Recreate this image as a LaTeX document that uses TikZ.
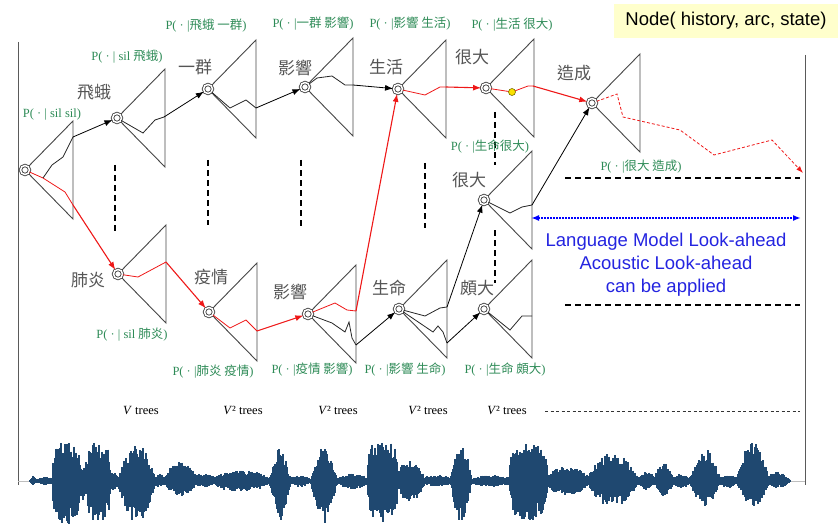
\documentclass[tikz,border=0pt]{standalone}
\usepackage{fontspec}
\setmainfont{Liberation Serif}
\setsansfont{Liberation Sans}
\newfontfamily\cjk{Noto Sans CJK TC}
\usetikzlibrary{arrows.meta}

\definecolor{probgreen}{RGB}{46,139,87}
\definecolor{treegray}{RGB}{70,70,70}
\definecolor{wordgray}{RGB}{85,85,85}
\definecolor{pathred}{RGB}{238,24,24}
\definecolor{wavecol}{RGB}{31,72,112}
\definecolor{lookblue}{RGB}{36,36,224}

\tikzset{every picture/.style={line width=0.75pt},
  tree/.style={draw=treegray,line width=0.9pt},
  hist/.style={circle,draw=treegray,double=white,double distance=1.5pt,line width=0.9pt,minimum size=9pt,inner sep=0pt,fill=white},
  word/.style={text=wordgray,font=\cjk\fontsize{17}{17}\selectfont,inner sep=0pt},
  prob/.style={text=probgreen,font=\fontsize{12.5}{13}\selectfont,inner sep=0pt},
  trees/.style={font=\fontsize{12.5}{13}\selectfont},
  redline/.style={draw=pathred,line width=0.8pt},
  blkline/.style={draw=black!85,line width=0.8pt},
  redarr/.style={draw=pathred,line width=1.1pt,-{Latex[length=8pt,width=6pt]}},
  blkarr/.style={draw=black,line width=0.8pt,-{Latex[length=8pt,width=6pt]}},
  vdash/.style={draw=black,line width=1.6pt,dash pattern=on 6pt off 4pt},
  hdash/.style={draw=black,line width=1.4pt,dash pattern=on 6pt off 4pt},
  wave/.style={draw=wavecol,line width=1.15pt}
}

\begin{document}
\begin{tikzpicture}[x=1pt,y=1pt,yscale=-1,xscale=1]
\path[use as bounding box] (0,0) rectangle (838,524);

%Legend box
\fill[fill={rgb,255:red,255;green,255;blue,204}] (614,4) rectangle (838,38);
\node[font=\sffamily\fontsize{18.5}{18.5}\selectfont] (legend) at (726,21) {Node( history, arc, state)};

%Time borders
\draw[draw={rgb,255:red,90;green,90;blue,90},line width=1pt] (18,42) -- (18,485);
\draw[draw={rgb,255:red,90;green,90;blue,90},line width=1pt] (805,55) -- (805,485);

%Waveform
\draw[draw={rgb,255:red,190;green,190;blue,190},line width=1pt] (18,481) -- (805,481);
\pgfmathsetseed{7}
\foreach \xa/\xb/\ua/\da/\p in {30/36/5/3/1, 36/54/3/3/0.5, 53/81/41/43/0.2, 80/89/20/20/0.5,
  87/110/41/43/0.2, 108/119/8/8/0.5, 117/157/36/42/1, 155/165/6/6/0.5, 162/200/20/14/1,
  195/215/8/6/0.5, 213/270/10/10/0.5, 268/292/32/40/1.5, 290/310/5/5/0.5, 310/338/34/42/1.2,
  338/368/7/7/0.5, 368/397/41/40/0.15, 395/425/20/20/0.7, 422/452/5/5/0.5, 450/472/38/42/1,
  470/512/5/5/0.5, 510/547/39/40/0.2, 545/590/14/14/0.6, 585/640/28/26/1, 638/655/8/8/0.5,
  653/675/18/14/1, 673/690/6/6/0.5, 688/722/31/24/1.2, 720/738/6/6/0.5, 736/770/40/25/1,
  765/790/8/6/0.7}{
  \foreach \x in {\xa,...,\xb}{
    \pgfmathsetmacro\s{pow(max(sin(180*(\x-\xa)/(\xb-\xa)),0.02),\p)}
    \pgfmathsetmacro\u{1+\ua*\s*(0.5+0.5*rnd)}
    \pgfmathsetmacro\d{1+\da*\s*(0.5+0.5*rnd)}
    \draw[wave] (\x,481-\u) -- (\x,481+\d);
  }
}

%Trees
\foreach \n/\x/\y in {t0/25/170, t1/117/118, t2/208/89, t3/305/87, t4/398/89, t5/486/88, t6/592/103,
  b1/118/274, b2/209/312, b3/308/314, b4/399/309, b5/484/309, m5/484/200}{
  \draw[tree] (\x,\y) -- (\x+48,\y-49) -- (\x+48,\y+49) -- cycle;
  \node[hist] (\n) at (\x,\y) {};
}

%Vertical dashes
\draw[vdash] (115,165) -- (115,232);
\draw[vdash] (208,160) -- (208,225);
\draw[vdash] (301,160) -- (301,227);
\draw[vdash] (425,163) -- (425,228);
\draw[vdash] (495,112) -- (495,165);
\draw[vdash] (495,230) -- (495,283);

%Paths inside the trees
\coordinate (e0r) at (73,205);
\coordinate (e0k) at (73,137);
\coordinate (e1) at (164,117);
\coordinate (e2) at (256,108);
\coordinate (e3) at (353,85);
\coordinate (e4) at (446,87);
\coordinate (e5) at (533,86);
\coordinate (eb1) at (166,262);
\coordinate (eb2) at (257,331);
\coordinate (eb3r) at (356,311);
\coordinate (eb3k) at (356,345);
\coordinate (eb4a) at (447,307);
\coordinate (eb4b) at (447,343);
\coordinate (em5) at (532,205);
\coordinate (endr) at (803,173);

\draw[redline] (t0) -- (43,178) -- (65,192) -- (e0r);
\draw[blkline] (43,178) -- (52,165) -- (63,157) -- (e0k);
\draw[blkline] (t1) -- (143,133) -- (155,120) -- (e1);
\draw[blkline] (t2) -- (230,108) -- (246,100) -- (e2);
\draw[blkline] (t3) -- (317,78) -- (332,76) -- (345,85) -- (e3);
\draw[redline] (t4) -- (425,95) -- (440,87) -- (e4);
\draw[redline] (t5) -- (512,92) -- (528,86) -- (e5);
\draw[redline,dash pattern=on 3pt off 2pt,-{Latex[length=7pt,width=5pt]}] (t6) -- (617,94) -- (623,117) -- (680,130) -- (714,155) -- (772,140) -- (endr);
\draw[redline] (b1) -- (138,277) -- (eb1);
\draw[redline] (b2) -- (230,328) -- (246,320) -- (eb2);
\draw[redline] (b3) -- (335,303) -- (347,310) -- (eb3r);
\draw[blkline] (b3) -- (332,323) -- (345,332) -- (349,322) -- (352,338) -- (eb3k);
\draw[blkline] (b4) -- (425,316) -- (440,308) -- (eb4a);
\draw[blkline] (b4) -- (433,332) -- (438,326) -- (443,332) -- (eb4b);
\draw[blkline] (b5) -- (510,330) -- (522,316) -- (532,316);
\draw[blkline] (m5) -- (510,213) -- (522,207) -- (em5);

%Yellow dot
\node[circle,fill={rgb,255:red,250;green,225;blue,0},draw={rgb,255:red,120;green,110;blue,0},line width=0.6pt,minimum size=7pt,inner sep=0pt] (dot) at (512,92) {};

%Arrows between trees
\draw[blkarr] (e0k) -- (t1);
\draw[blkarr] (e1) -- (t2);
\draw[blkarr] (e2) -- (t3);
\draw[blkarr] (e3) -- (t4);
\draw[redarr] (e4) -- (t5);
\draw[redarr] (e5) -- (t6);
\draw[redarr] (e0r) -- (b1);
\draw[redarr] (eb1) -- (b2);
\draw[redarr] (eb2) -- (b3);
\draw[redarr] (eb3r) -- (t4);
\draw[blkarr] (eb3k) -- (b4);
\draw[blkarr] (eb4a) -- (m5);
\draw[blkarr] (eb4b) -- (b5);
\draw[blkarr] (em5) -- (t6);

% Text Node
\node[word] (w1) at (94,92) {飛蛾};
\node[word] (w2) at (195,67) {一群};
\node[word] (w3) at (295,68) {影響};
\node[word] (w4) at (386,67) {生活};
\node[word] (w5) at (472,57) {很大};
\node[word] (w6) at (574,73) {造成};
\node[word] (w7) at (469,180) {很大};
\node[word] (w8) at (88,280) {肺炎};
\node[word] (w9) at (211,277) {疫情};
\node[word] (w10) at (290,292) {影響};
\node[word] (w11) at (389,288) {生命};
\node[word] (w12) at (477,288) {頗大};

% Text Node
\node[prob] (p0) at (52,115) {P( · | sil sil)};
\node[prob] (p1) at (127,57) {P( · | sil {\cjk 飛蛾})};
\node[prob] (p2) at (206,26) {P( · |{\cjk 飛蛾 一群})};
\node[prob] (p3) at (313,24) {P( · |{\cjk 一群 影響})};
\node[prob] (p4) at (410,24) {P( · |{\cjk 影響 生活})};
\node[prob] (p5) at (512,25) {P( · |{\cjk 生活 很大})};
\node[prob] (p6) at (490,147) {P( · |{\cjk 生命很大})};
\node[prob] (p7) at (641,167) {P( · |{\cjk 很大 造成})};
\node[prob] (p8) at (132,335) {P( · | sil {\cjk 肺炎})};
\node[prob] (p9) at (213,372) {P( · |{\cjk 肺炎 疫情})};
\node[prob] (p10) at (312,370) {P( · |{\cjk 疫情 影響})};
\node[prob] (p11) at (405,370) {P( · |{\cjk 影響 生命})};
\node[prob] (p12) at (505,370) {P( · |{\cjk 生命 頗大})};

%Look-ahead region
\draw[hdash] (565,178) -- (800,178);
\draw[hdash] (565,305) -- (800,305);
\coordinate (la) at (531,218);
\coordinate (lb) at (801,218);
\draw[draw=blue,line width=1.6pt,dash pattern=on 1.6pt off 1.4pt,{Latex[length=8pt,width=6pt]}-{Latex[length=8pt,width=6pt]}] (la) -- (lb);
\node[text=lookblue,font=\sffamily\fontsize{18.5}{23}\selectfont,align=center] (look) at (666,265) {Language Model Look-ahead\\Acoustic Look-ahead\\can be applied};

% Text Node
\node[trees] (v1) at (141,410) {\textit{V} trees};
\node[trees] (v2) at (243,410) {\textit{V}² trees};
\node[trees] (v3) at (338,410) {\textit{V}² trees};
\node[trees] (v4) at (428,410) {\textit{V}² trees};
\node[trees] (v5) at (507,410) {\textit{V}² trees};
\draw[draw=black!80,line width=0.7pt,dash pattern=on 3pt off 2.5pt] (545,411) -- (800,411);

\end{tikzpicture}
\end{document}
